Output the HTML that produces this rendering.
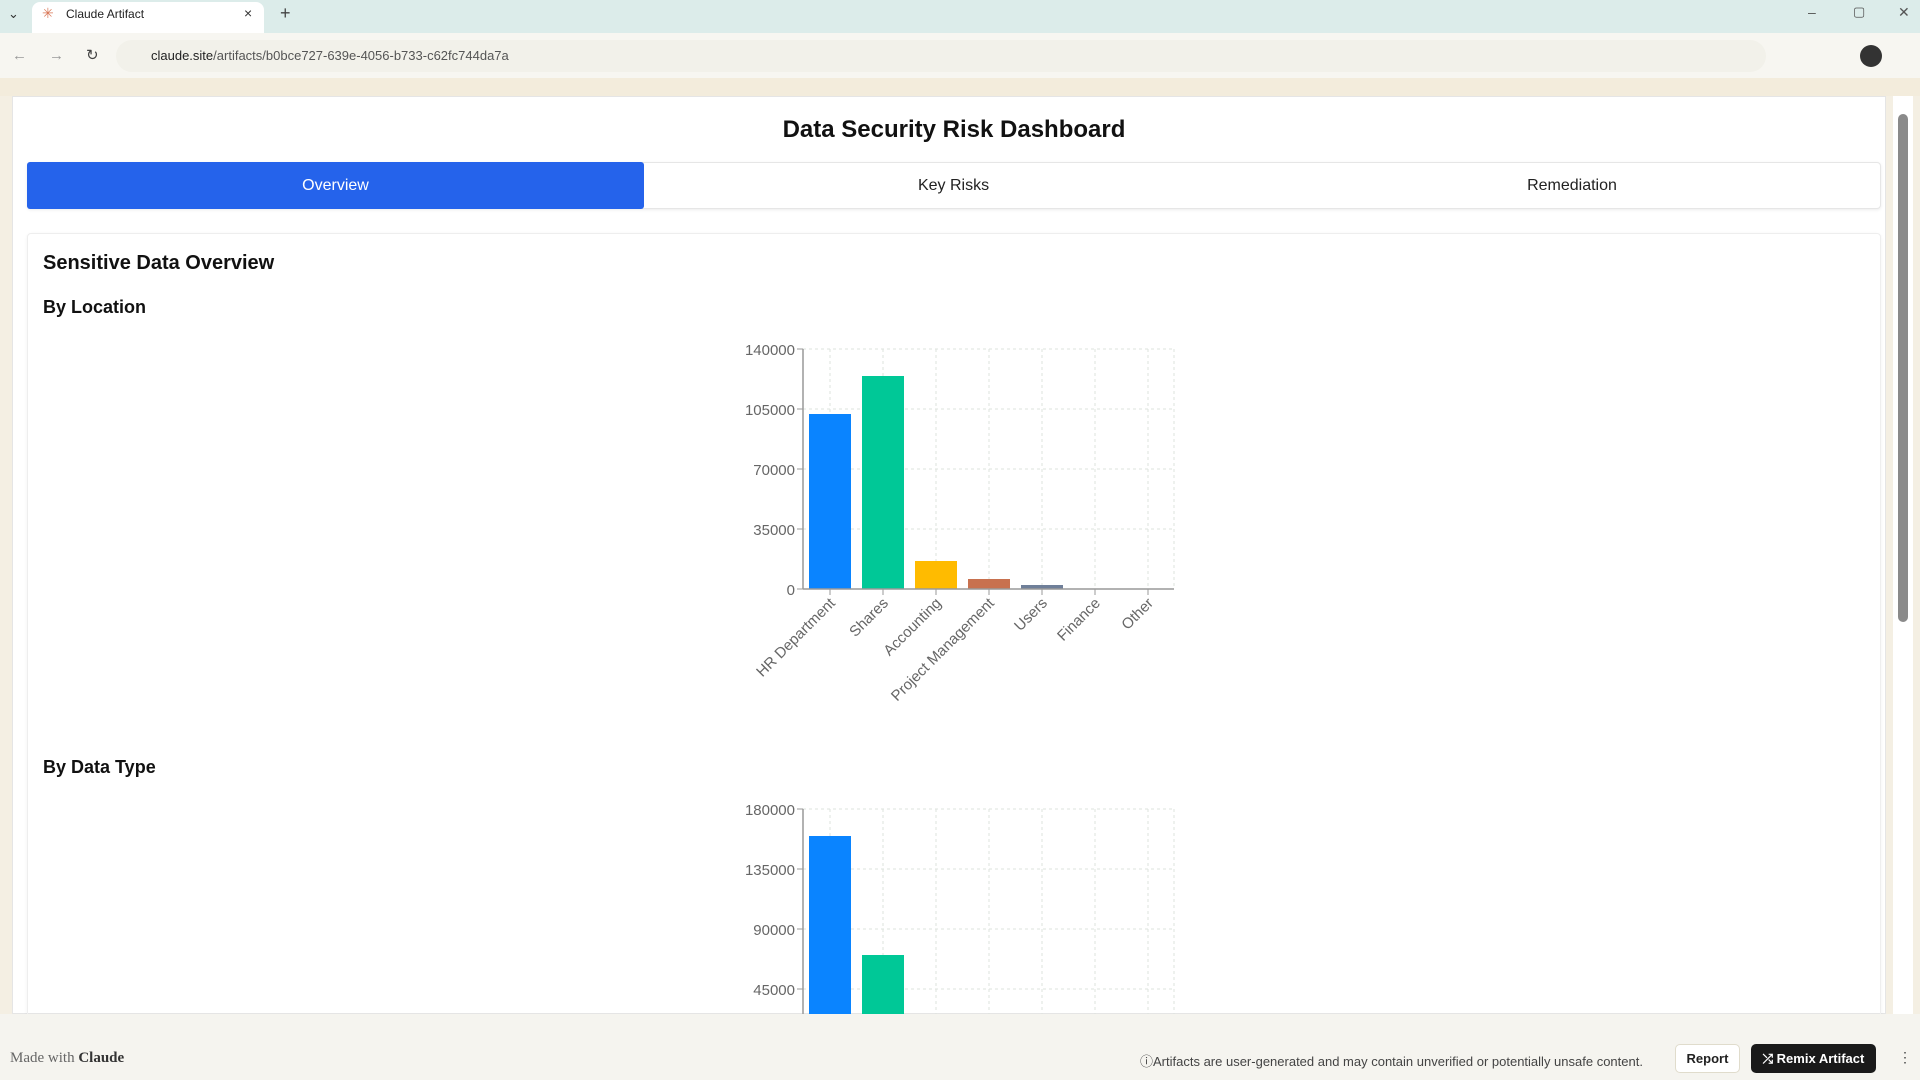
<!DOCTYPE html>
<html><head><meta charset="utf-8"><style>
*{margin:0;padding:0;box-sizing:border-box}
body{width:1920px;height:1080px;overflow:hidden;background:#f4efe3;font-family:"Liberation Sans",sans-serif;position:relative}
.a{position:absolute}
</style></head><body>
<!-- chrome -->
<div class="a" style="left:0;top:0;width:1920px;height:33px;background:#dcecea"></div>
<div class="a" style="left:32px;top:2px;width:232px;height:31px;background:#fff;border-radius:8px 8px 0 0"></div>
<div class="a" style="left:8px;top:6px;font-size:13px;color:#333">⌄</div>
<div class="a" style="left:42px;top:5px;font-size:14px;color:#d97757">✳</div>
<div class="a" style="left:66px;top:7px;font-size:12px;color:#222">Claude Artifact</div>
<div class="a" style="left:244px;top:5px;font-size:14px;color:#333">×</div>
<div class="a" style="left:280px;top:3px;font-size:18px;color:#444">+</div>
<div class="a" style="left:1808px;top:4px;font-size:14px;color:#555">–</div>
<div class="a" style="left:1853px;top:4px;font-size:13px;color:#555">▢</div>
<div class="a" style="left:1898px;top:4px;font-size:14px;color:#555">✕</div>
<div class="a" style="left:0;top:33px;width:1920px;height:45px;background:#f7f6f1"></div>
<div class="a" style="left:12px;top:46px;font-size:15px;color:#999;letter-spacing:22px">←→<span style="color:#444">↻</span></div>
<div class="a" style="left:116px;top:40px;width:1650px;height:32px;background:#f2f1ea;border-radius:16px"></div>
<div class="a" style="left:151px;top:48px;font-size:13px;color:#222">claude.site<span style="color:#555">/artifacts/b0bce727-639e-4056-b733-c62fc744da7a</span></div>
<div class="a" style="left:1860px;top:45px;width:22px;height:22px;border-radius:50%;background:#333"></div>
<div class="a" style="left:0;top:78px;width:1920px;height:18px;background:#f3ecdc"></div>
<!-- page -->
<div class="a" style="left:12px;top:96px;width:1874px;height:918px;background:#fff;border:1px solid #e5e5e5"></div>
<div class="a" style="left:27px;top:116px;width:1854px;text-align:center;font-size:24px;font-weight:bold;color:#111">Data Security Risk Dashboard</div>
<div class="a" style="left:27px;top:162px;width:1854px;height:47px;background:#fff;border:1px solid #e6e6e6;border-radius:4px;box-shadow:0 1px 3px rgba(0,0,0,.08)"></div>
<div class="a" style="left:27px;top:162px;width:617px;height:47px;background:#2563eb;color:#fff;font-size:16px;text-align:center;line-height:47px;border-radius:3px">Overview</div>
<div class="a" style="left:644px;top:162px;width:619px;height:47px;color:#222;font-size:16px;text-align:center;line-height:47px">Key Risks</div>
<div class="a" style="left:1263px;top:162px;width:618px;height:47px;color:#222;font-size:16px;text-align:center;line-height:47px">Remediation</div>
<div class="a" style="left:27px;top:233px;width:1854px;height:800px;border:1px solid #eee;border-radius:4px;box-shadow:0 1px 3px rgba(0,0,0,.06)"></div>
<div class="a" style="left:43px;top:252px;font-size:20px;font-weight:bold;color:#111">Sensitive Data Overview</div>
<div class="a" style="left:43px;top:297px;font-size:18px;font-weight:bold;color:#111">By Location</div>
<div class="a" style="left:43px;top:757px;font-size:18px;font-weight:bold;color:#111">By Data Type</div>
<svg class="a" style="left:0;top:0" width="1920" height="1014" font-family="Liberation Sans,sans-serif">
<g stroke="#dde3dd" stroke-dasharray="3 3" fill="none">
<line x1="803" y1="349" x2="1174" y2="349"/><line x1="803" y1="409" x2="1174" y2="409"/><line x1="803" y1="469" x2="1174" y2="469"/><line x1="803" y1="529" x2="1174" y2="529"/>
<line x1="830" y1="349" x2="830" y2="589"/><line x1="883" y1="349" x2="883" y2="589"/><line x1="936" y1="349" x2="936" y2="589"/><line x1="989" y1="349" x2="989" y2="589"/><line x1="1042" y1="349" x2="1042" y2="589"/><line x1="1095" y1="349" x2="1095" y2="589"/><line x1="1148" y1="349" x2="1148" y2="589"/><line x1="1174" y1="349" x2="1174" y2="589"/>
<line x1="803" y1="809" x2="1174" y2="809"/><line x1="803" y1="869" x2="1174" y2="869"/><line x1="803" y1="929" x2="1174" y2="929"/><line x1="803" y1="989" x2="1174" y2="989"/>
<line x1="830" y1="809" x2="830" y2="1014"/><line x1="883" y1="809" x2="883" y2="1014"/><line x1="936" y1="809" x2="936" y2="1014"/><line x1="989" y1="809" x2="989" y2="1014"/><line x1="1042" y1="809" x2="1042" y2="1014"/><line x1="1095" y1="809" x2="1095" y2="1014"/><line x1="1148" y1="809" x2="1148" y2="1014"/><line x1="1174" y1="809" x2="1174" y2="1014"/>
</g>
<rect x="809" y="414" width="42" height="175" fill="#0a84ff"/>
<rect x="862" y="376" width="42" height="213" fill="#00c897"/>
<rect x="915" y="561" width="42" height="28" fill="#ffbb00"/>
<rect x="968" y="579" width="42" height="10" fill="#c8714f"/>
<rect x="1021" y="585" width="42" height="4" fill="#6f7f99"/>
<rect x="809" y="836" width="42" height="180" fill="#0a84ff"/>
<rect x="862" y="955" width="42" height="60" fill="#00c897"/>
<g stroke="#999" stroke-width="1.5"><line x1="803" y1="349" x2="803" y2="589"/><line x1="803" y1="589" x2="1174" y2="589"/><line x1="803" y1="809" x2="803" y2="1014"/></g>
<g stroke="#999"><line x1="797" y1="349" x2="803" y2="349"/><line x1="797" y1="409" x2="803" y2="409"/><line x1="797" y1="469" x2="803" y2="469"/><line x1="797" y1="529" x2="803" y2="529"/><line x1="797" y1="589" x2="803" y2="589"/>
<line x1="830" y1="589" x2="830" y2="595"/><line x1="883" y1="589" x2="883" y2="595"/><line x1="936" y1="589" x2="936" y2="595"/><line x1="989" y1="589" x2="989" y2="595"/><line x1="1042" y1="589" x2="1042" y2="595"/><line x1="1095" y1="589" x2="1095" y2="595"/><line x1="1148" y1="589" x2="1148" y2="595"/>
<line x1="797" y1="809" x2="803" y2="809"/><line x1="797" y1="869" x2="803" y2="869"/><line x1="797" y1="929" x2="803" y2="929"/><line x1="797" y1="989" x2="803" y2="989"/></g>
<g fill="#666" font-size="15" text-anchor="end">
<text x="795" y="355">140000</text><text x="795" y="415">105000</text><text x="795" y="475">70000</text><text x="795" y="535">35000</text><text x="795" y="595">0</text>
<text x="795" y="815">180000</text><text x="795" y="875">135000</text><text x="795" y="935">90000</text><text x="795" y="995">45000</text>
<text transform="translate(836,604) rotate(-45)">HR Department</text>
<text transform="translate(889,604) rotate(-45)">Shares</text>
<text transform="translate(942,604) rotate(-45)">Accounting</text>
<text transform="translate(995,604) rotate(-45)">Project Management</text>
<text transform="translate(1048,604) rotate(-45)">Users</text>
<text transform="translate(1101,604) rotate(-45)">Finance</text>
<text transform="translate(1154,604) rotate(-45)">Other</text>
</g>
</svg>
<!-- scrollbar -->
<div class="a" style="left:1893px;top:96px;width:20px;height:918px;background:#fff"></div>
<div class="a" style="left:1898px;top:114px;width:10px;height:508px;background:#8a8a8a;border-radius:5px"></div>
<!-- footer -->
<div class="a" style="left:0;top:1014px;width:1920px;height:66px;background:#f5f4ef"></div>
<div class="a" style="left:10px;top:1050px;font-size:15px;color:#666;font-family:'Liberation Serif',serif">Made with <b style="color:#333">Claude</b></div>
<div class="a" style="left:1140px;top:1051px;font-size:13px;color:#444">ⓘArtifacts are user-generated and may contain unverified or potentially unsafe content.</div>
<div class="a" style="left:1675px;top:1044px;width:65px;height:29px;border:1px solid #e0dccc;border-radius:5px;background:#fff;font-size:13px;font-weight:bold;text-align:center;line-height:27px;color:#222">Report</div>
<div class="a" style="left:1751px;top:1044px;width:125px;height:29px;border-radius:5px;background:#1a1a1a;font-size:13px;font-weight:bold;text-align:center;line-height:29px;color:#fff">⤮ Remix Artifact</div>
<div class="a" style="left:1898px;top:1049px;font-size:14px;color:#444">⋮</div>
</body></html>
